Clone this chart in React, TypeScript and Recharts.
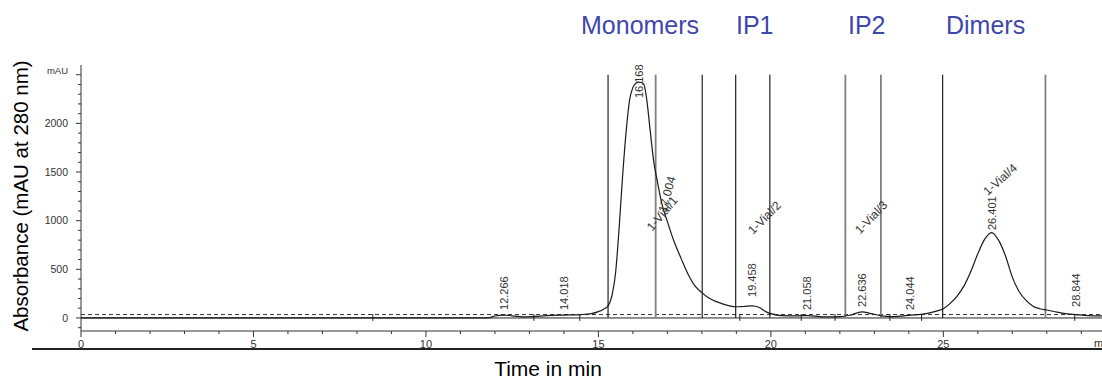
import React from 'react';
import {
  ComposedChart,
  Line,
  XAxis,
  YAxis,
  ReferenceLine,
  Scatter,
} from 'recharts';

// ---- trace (retention time in min, absorbance in mAU) ----
const times = [
  0, 8.4, 8.5, 11.8, 12.0, 12.27, 12.5, 12.8, 13.1, 13.5, 14.0, 14.5, 14.8, 15.0, 15.15,
  15.28, 15.4, 15.5, 15.6, 15.7, 15.8, 15.9, 16.0, 16.1, 16.17, 16.25, 16.32, 16.4, 16.5,
  16.6, 16.7, 16.85, 17.0, 17.2, 17.4, 17.6, 17.8, 18.0, 18.2, 18.4, 18.6, 18.8, 19.0,
  19.2, 19.46, 19.65, 19.85, 20.0, 20.3, 20.8, 21.06, 21.5, 22.0, 22.3, 22.64, 22.9, 23.2,
  23.5, 24.04, 24.5, 24.8, 25.0, 25.2, 25.4, 25.6, 25.8, 26.0, 26.2, 26.4, 26.6, 26.8,
  27.0, 27.2, 27.4, 27.6, 27.8, 28.0, 28.3, 28.6, 28.84, 29.2, 29.6,
];
const absorbance = [
  0, 0, 0, 0, 20, 30, 22, 12, 14, 24, 30, 35, 45, 65, 90,
  125, 240, 470, 920, 1450, 1900, 2230, 2370, 2415, 2425, 2420, 2400, 2250, 1930,
  1620, 1420, 1160, 990, 780, 610, 450, 330, 260, 205, 170, 145, 125, 115,
  118, 125, 110, 65, 45, 25, 22, 25, 12, 14, 30, 62, 45, 22,
  14, 28, 45, 70, 95, 150, 225, 330, 480, 660, 810, 878, 800, 640,
  420, 270, 180, 120, 95, 82, 60, 42, 35, 25, 22,
];

// ---- fraction boundaries (min) ----
const boundaryTimes = [15.28, 16.66, 18.01, 18.98, 19.97, 22.16, 23.19, 24.98, 27.96];
const boundaryTone = ['dark', 'gray', 'dark', 'dark', 'dark', 'gray', 'gray', 'dark', 'gray'];
const boundaryTop = 2500;

// ---- integration markers (min) ----
const markerTimes = [8.46, 13.13, 14.46, 19.1, 20.88, 21.86, 23.45, 24.37, 28.81];

// ---- peak annotations ----
const peakTexts = ['12.266', '14.018', '16.168', '19.458', '21.058', '22.636', '24.044', '26.401', '28.844', '17.004', '1-Vial/1', '1-Vial/2', '1-Vial/3', '1-Vial/4'];
const peakTextTimes = [12.266, 14.018, 16.168, 19.458, 21.058, 22.636, 24.044, 26.401, 28.844, 16.85, 16.47, 19.4, 22.5, 26.21];
const peakTextLevels = [82, 82, 2260, 216, 82, 113, 82, 904, 113, 1089, 915, 884, 884, 1285];
const peakTextAngles = [-90, -90, -90, -90, -90, -90, -90, -90, -90, -75, -50, -45, -46, -42];

// ---- fraction titles ----
const fractionNames = ['Monomers', 'IP1', 'IP2', 'Dimers'];
const fractionLeft = [581, 736, 848, 946];

// ---- axes ----
const xTicks = [0, 1, 2, 3, 4, 5, 6, 7, 8, 9, 10, 11, 12, 13, 14, 15, 16, 17, 18, 19, 20, 21, 22, 23, 24, 25, 26, 27, 28, 29];
const xMajor = [0, 5, 10, 15, 20, 25];
const yTicks = [-100, 0, 100, 200, 300, 400, 500, 600, 700, 800, 900, 1000, 1100, 1200, 1300, 1400, 1500, 1600, 1700, 1800, 1900, 2000, 2100, 2200, 2300, 2400, 2500];
const yLabeled = [0, 500, 1000, 1500, 2000];
const yUnitTick = 2500;
const yUnitText = 'mAU';

const data = times.map((t, i) => ({ t, v: absorbance[i] }));
const labelData = peakTexts.map((text, i) => ({
  t: peakTextTimes[i],
  v: peakTextLevels[i],
  text,
  angle: peakTextAngles[i],
}));

const FONT = '"Liberation Sans", Arial, Helvetica, sans-serif';

const XTick = (props: any) => {
  const { x, y, payload } = props;
  const major = xMajor.includes(payload.value);
  return (
    <g>
      <line x1={x} x2={x} y1={y} y2={y + (major ? 6 : 3)} stroke="#333" strokeWidth={1} />
      {major && (
        <text x={x} y={y + 17} textAnchor="middle" fontSize={11} fill="#333" fontFamily={FONT}>
          {payload.value}
        </text>
      )}
    </g>
  );
};

const YTick = (props: any) => {
  const { x, y, payload } = props;
  const major = yLabeled.includes(payload.value) || payload.value === yUnitTick;
  return (
    <g>
      <line x1={x - (major ? 5 : 3)} x2={x} y1={y} y2={y} stroke="#333" strokeWidth={1} />
      {yLabeled.includes(payload.value) && (
        <text x={x - 13} y={y} dy="0.35em" textAnchor="end" fontSize={10.5} fill="#333" fontFamily={FONT}>
          {payload.value}
        </text>
      )}
      {payload.value === yUnitTick && (
        <text x={x - 13} y={y - 4} dy="0.35em" textAnchor="end" fontSize={9.5} fill="#333" fontFamily={FONT}>
          {yUnitText}
        </text>
      )}
    </g>
  );
};

const PeakLabel = (props: any) => {
  const { cx, cy, payload } = props;
  if (cx == null || cy == null) return null;
  return (
    <text
      x={cx}
      y={cy}
      dy="0.35em"
      transform={`rotate(${payload.angle}, ${cx}, ${cy})`}
      fontSize={payload.angle === -90 ? 11 : 12}
      fill="#333"
      fontFamily={FONT}
      textAnchor="start"
    >
      {payload.text}
    </text>
  );
};

export default function App() {
  return (
    <div
      style={{
        position: 'absolute',
        left: 0,
        top: 0,
        width: 1102,
        height: 379,
        overflow: 'hidden',
        background: '#fff',
        fontFamily: FONT,
      }}
    >
      <ComposedChart
        width={1102}
        height={379}
        data={data}
        margin={{ top: 65, right: 0, bottom: 28, left: 0 }}
      >
        <XAxis
          type="number"
          dataKey="t"
          domain={[0, 29.6]}
          ticks={xTicks}
          interval={0}
          tickSize={0}
          tickMargin={0}
          tickLine={false}
          tick={<XTick />}
          height={20}
          stroke="#333"
        />
        <YAxis
          type="number"
          domain={[-134, 2600]}
          ticks={yTicks}
          interval={0}
          tickSize={0}
          tickMargin={0}
          tickLine={false}
          tick={<YTick />}
          width={81}
          stroke="#333"
        />
        <ReferenceLine y={0} stroke="#222" strokeWidth={1} />
        <ReferenceLine y={35} stroke="#333" strokeWidth={1} strokeDasharray="4 3" />
        {boundaryTimes.map((bt, i) => (
          <ReferenceLine
            key={'b' + i}
            segment={[{ x: bt, y: 0 }, { x: bt, y: boundaryTop }]}
            stroke={boundaryTone[i] === 'dark' ? '#222' : '#808080'}
            strokeWidth={boundaryTone[i] === 'dark' ? 1.2 : 1.8}
            ifOverflow="visible"
          />
        ))}
        {markerTimes.map((mt, i) => (
          <ReferenceLine
            key={'m' + i}
            segment={[{ x: mt, y: -30 }, { x: mt, y: 40 }]}
            stroke="#222"
            strokeWidth={1}
            ifOverflow="visible"
          />
        ))}
        <Line
          type="monotone"
          dataKey="v"
          stroke="#1a1a1a"
          strokeWidth={1.2}
          dot={false}
          isAnimationActive={false}
        />
        <Scatter
          data={labelData}
          dataKey="v"
          shape={<PeakLabel />}
          isAnimationActive={false}
        />
      </ComposedChart>

      {fractionNames.map((name, i) => (
        <div
          key={name}
          style={{
            position: 'absolute',
            left: fractionLeft[i],
            top: 13,
            fontSize: 25,
            lineHeight: 1,
            color: '#3F47AB',
            whiteSpace: 'nowrap',
          }}
        >
          {name}
        </div>
      ))}

      <div
        style={{
          position: 'absolute',
          left: 21,
          top: 196,
          transform: 'translate(-50%, -50%) rotate(-90deg)',
          fontSize: 20.5,
          lineHeight: 1,
          whiteSpace: 'nowrap',
          color: '#000',
        }}
      >
        Absorbance (mAU at 280 nm)
      </div>

      <div
        style={{
          position: 'absolute',
          left: 32,
          top: 348,
          width: 1070,
          height: 2,
          background: '#222',
        }}
      />

      <div
        style={{
          position: 'absolute',
          left: 1094,
          top: 338,
          fontSize: 11,
          lineHeight: 1,
          color: '#333',
          whiteSpace: 'nowrap',
        }}
      >
        min
      </div>

      <div
        style={{
          position: 'absolute',
          left: 548,
          top: 358,
          transform: 'translateX(-50%)',
          fontSize: 21,
          lineHeight: 1,
          whiteSpace: 'nowrap',
          color: '#000',
        }}
      >
        Time in min
      </div>
    </div>
  );
}
